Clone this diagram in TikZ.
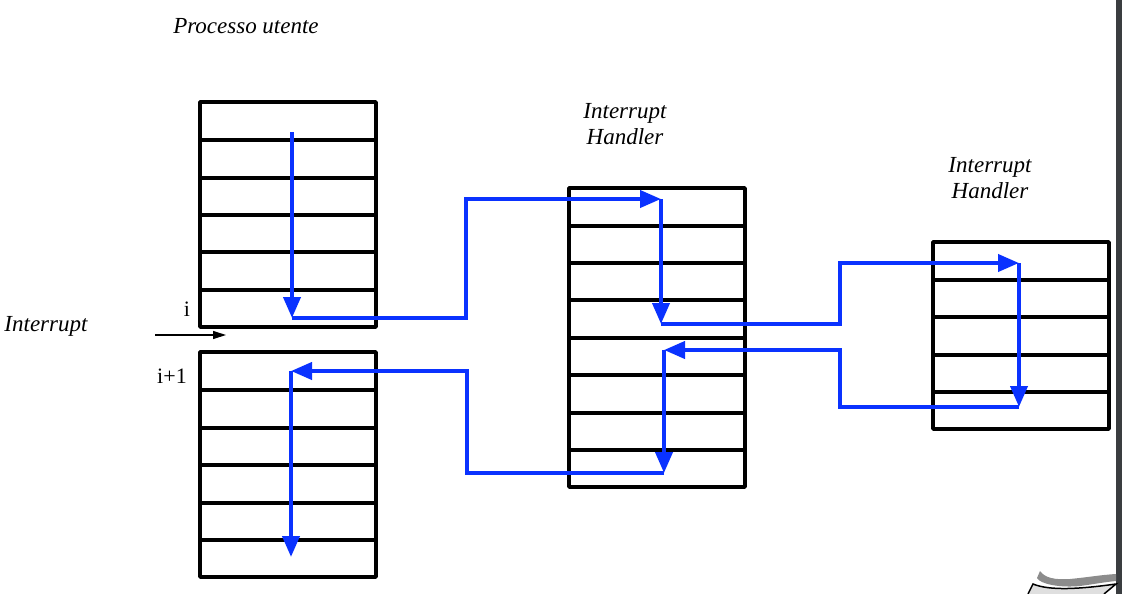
\documentclass[tikz,border=0pt]{standalone}
\usepackage{fontspec}
\setmainfont{Liberation Serif}
\usetikzlibrary{arrows.meta}
\definecolor{flow}{RGB}{10,50,255}
\definecolor{barcol}{RGB}{58,61,64}
\tikzset{
  cellbox/.style={draw=black, line width=3.6pt, line join=round},
  rowline/.style={draw=black, line width=3.6pt},
  flowline/.style={draw=flow, line width=4pt, line join=miter},
  flowarrow/.style={flowline, -{Triangle[length=21pt,width=17pt]}},
  lbl/.style={font=\fontsize{23}{26}\selectfont\itshape, align=center, inner sep=0pt},
  idx/.style={font=\fontsize{22}{25}\selectfont, inner sep=0pt}
}
\begin{document}
\begin{tikzpicture}[x=1pt,y=-1pt]
\useasboundingbox (0,0) rectangle (1122,594);
% boxes
\draw[cellbox] (200,102) rectangle (376,327);
\foreach \y in {140,178,215,252,290} \draw[rowline] (200,\y) -- (376,\y);
\draw[cellbox] (200,352) rectangle (376,577);
\foreach \y in {390,428,465,503,540} \draw[rowline] (200,\y) -- (376,\y);
\draw[cellbox] (569,188) rectangle (745,487);
\foreach \y in {226,263,300,338,375,413,450} \draw[rowline] (569,\y) -- (745,\y);
\draw[cellbox] (933,242) rectangle (1109,429);
\foreach \y in {280,317,355,392} \draw[rowline] (933,\y) -- (1109,\y);
% labels
\node[lbl] (pu) at (246,26) {Processo utente};
\node[lbl] (ih1) at (625,124) {Interrupt\\Handler};
\node[lbl] (ih2) at (990,178) {Interrupt\\Handler};
\node[lbl] (intr) at (46,326) {Interrupt};
\node[idx] (ii) at (187,309) {i};
\node[idx] (ii1) at (172,376) {i+1};
% interrupt arrow
\coordinate (ia) at (155,335);
\coordinate (ib) at (226,335);
\draw[line width=1.2pt, -{Triangle[length=13pt,width=8pt]}] (ia) -- (ib);
% flow coordinates
\coordinate (a0) at (292,132);
\coordinate (a1) at (292,318);
\coordinate (b1) at (661,199);
\coordinate (b2) at (661,324);
\coordinate (c1) at (1019,263);
\coordinate (c2) at (1019,407);
\coordinate (d1) at (664,350);
\coordinate (d2) at (664,473);
\coordinate (e1) at (291,371);
\coordinate (e2) at (291,557);
% flow
\draw[flowarrow] (a0) -- (a1);
\draw[flowarrow] (a1) -- (466,318) -- (466,199) -- (b1);
\draw[flowarrow] (b1) -- (b2);
\draw[flowarrow] (b2) -- (840,324) -- (840,263) -- (c1);
\draw[flowarrow] (c1) -- (c2);
\draw[flowarrow] (c2) -- (840,407) -- (840,350) -- (d1);
\draw[flowarrow] (d1) -- (d2);
\draw[flowarrow] (d2) -- (467,473) -- (467,371) -- (e1);
\draw[flowarrow] (e1) -- (e2);
% right edge bar
\fill[barcol] (1116,0) rectangle (1122,594);
% page curl at bottom right
\fill[gray!90] (1037,578) .. controls (1040,584) and (1060,588) .. (1080,586) .. controls (1095,584) and (1105,582) .. (1116,581) -- (1116,574) .. controls (1100,575) and (1090,577) .. (1070,579) .. controls (1055,580) and (1045,578) .. (1040,571) -- cycle;
\filldraw[fill=gray!25, draw=black, line width=1.5pt] (1028,594) -- (1033,584) .. controls (1050,591) and (1080,589) .. (1116,584) -- (1104,594);
\end{tikzpicture}
\end{document}
